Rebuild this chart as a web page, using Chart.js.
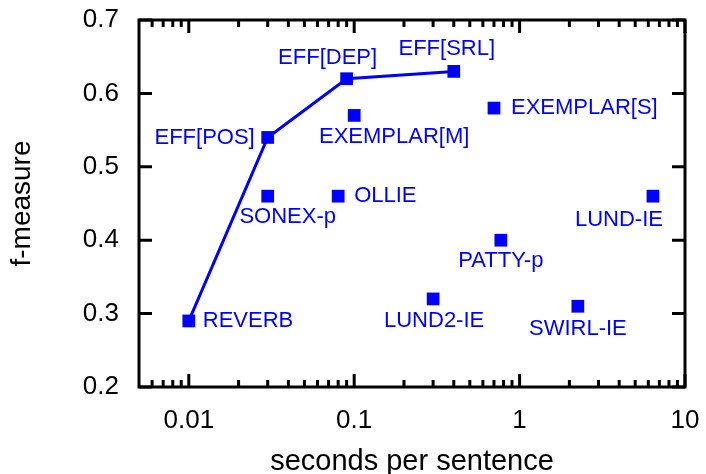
<!DOCTYPE html>
<html>
<head>
<meta charset="utf-8">
<script src="https://cdn.jsdelivr.net/npm/chart.js@4"></script>
<style>
  html, body { margin: 0; padding: 0; background: #fff; }
</style>
</head>
<body>
<canvas id="scatter" width="706" height="474"></canvas>
<script>
// extraction systems: runtime (seconds per sentence) vs. f-measure
const systems = ["REVERB", "EFF[POS]", "EFF[DEP]", "EFF[SRL]", "EXEMPLAR[M]", "EXEMPLAR[S]",
                 "SONEX-p", "OLLIE", "LUND-IE", "PATTY-p", "LUND2-IE", "SWIRL-IE"];
const seconds  = [0.01, 0.03, 0.09, 0.4, 0.1, 0.7, 0.03, 0.08, 6.4, 0.77, 0.3, 2.25];
const fMeasure = [0.29, 0.54, 0.62, 0.63, 0.57, 0.58, 0.46, 0.46, 0.46, 0.40, 0.32, 0.31];

// REVERB and the EFF variants are joined by a line
const linked = ["REVERB", "EFF[POS]", "EFF[DEP]", "EFF[SRL]"];

const xTicks = [0.01, 0.1, 1, 10];
const xMinorTicks = [0.006, 0.007, 0.008, 0.009,
                     0.02, 0.03, 0.04, 0.05, 0.06, 0.07, 0.08, 0.09,
                     0.2, 0.3, 0.4, 0.5, 0.6, 0.7, 0.8, 0.9,
                     2, 3, 4, 5, 6, 7, 8, 9];
const yTicks = [0.2, 0.3, 0.4, 0.5, 0.6, 0.7];

// where each name sits relative to its marker: [align, dx, dy]
const labelPlace = {
  "REVERB":      ["left",   14,   0],
  "EFF[POS]":    ["right", -13,   0],
  "EFF[DEP]":    ["center", -19, -21],
  "EFF[SRL]":    ["center",  -7, -22],
  "EXEMPLAR[M]": ["center",  40,  22],
  "EXEMPLAR[S]": ["left",    17,   0],
  "SONEX-p":     ["center",  20,  21],
  "OLLIE":       ["left",    16,   0],
  "LUND-IE":     ["center", -34,  24],
  "PATTY-p":     ["center",   0,  21],
  "LUND2-IE":    ["center",   1,  22],
  "SWIRL-IE":    ["center",   0,  23]
};

const BLUE = "#0000ff";
Chart.defaults.font.family = "'Liberation Sans', Arial, sans-serif";
Chart.defaults.color = "#000";

const points = systems.map((name, i) => ({ x: seconds[i], y: fMeasure[i] }));
const chain = linked.map(name => points[systems.indexOf(name)]);

// box round the plot with inward ticks on all four sides
const frame = {
  id: "frame",
  beforeDatasetsDraw(chart) {
    const { ctx, chartArea: a, scales: { x, y } } = chart;
    ctx.save();
    ctx.strokeStyle = "#000";
    ctx.lineWidth = 3;
    ctx.beginPath();
    const tick = (px, len) => {
      ctx.moveTo(px, a.bottom); ctx.lineTo(px, a.bottom - len);
      ctx.moveTo(px, a.top);    ctx.lineTo(px, a.top + len);
    };
    xTicks.forEach(v => tick(x.getPixelForValue(v), 13));
    xMinorTicks.forEach(v => tick(x.getPixelForValue(v), 7));
    yTicks.forEach(v => {
      const py = y.getPixelForValue(v);
      ctx.moveTo(a.left, py);  ctx.lineTo(a.left + 13, py);
      ctx.moveTo(a.right, py); ctx.lineTo(a.right - 13, py);
    });
    ctx.stroke();
    ctx.strokeRect(a.left, a.top, a.right - a.left, a.bottom - a.top);
    ctx.restore();
  }
};

// system names next to the markers
const names = {
  id: "names",
  afterDatasetsDraw(chart) {
    const { ctx, scales: { x, y } } = chart;
    ctx.save();
    ctx.fillStyle = BLUE;
    ctx.font = "22px 'Liberation Sans', Arial, sans-serif";
    ctx.textBaseline = "middle";
    systems.forEach((name, i) => {
      const [align, dx, dy] = labelPlace[name];
      ctx.textAlign = align;
      ctx.fillText(name, x.getPixelForValue(seconds[i]) + dx, y.getPixelForValue(fMeasure[i]) + dy);
    });
    ctx.restore();
  }
};

new Chart(document.getElementById("scatter"), {
  type: "scatter",
  data: {
    datasets: [
      {
        data: points,
        pointStyle: "rect",
        pointRadius: 9,
        backgroundColor: BLUE,
        borderWidth: 0
      },
      {
        data: chain,
        showLine: true,
        borderColor: BLUE,
        borderWidth: 3,
        pointRadius: 0
      }
    ]
  },
  options: {
    responsive: false,
    animation: false,
    layout: { padding: { top: 20, right: 21, left: 0, bottom: 0 } },
    plugins: { legend: { display: false }, tooltip: { enabled: false } },
    scales: {
      x: {
        type: "logarithmic",
        min: 0.005,
        max: 10,
        afterBuildTicks: s => { s.ticks = xTicks.map(v => ({ value: v })); },
        afterFit: s => { s.height = 87; s.paddingLeft = 0; s.paddingRight = 0; },
        grid: { display: false, drawTicks: false },
        border: { display: false },
        ticks: { font: { size: 26 }, padding: 18, maxRotation: 0, autoSkip: false,
                 callback: v => String(v) },
        title: { display: true, text: "seconds per sentence", font: { size: 29, lineHeight: 0.8 },
                 padding: { top: 0, bottom: 0 } }
      },
      y: {
        min: 0.2,
        max: 0.7,
        afterBuildTicks: s => { s.ticks = yTicks.map(v => ({ value: v })); },
        afterFit: s => { s.width = 139; s.paddingTop = 0; s.paddingBottom = 0; },
        grid: { display: false, drawTicks: false },
        border: { display: false },
        ticks: { font: { size: 26 }, padding: 20, callback: v => v.toFixed(1) },
        title: { display: true, text: "f-measure", font: { size: 28, lineHeight: 1 },
                 padding: { top: 8, bottom: 0 } }
      }
    }
  },
  plugins: [frame, names]
});
</script>
</body>
</html>
